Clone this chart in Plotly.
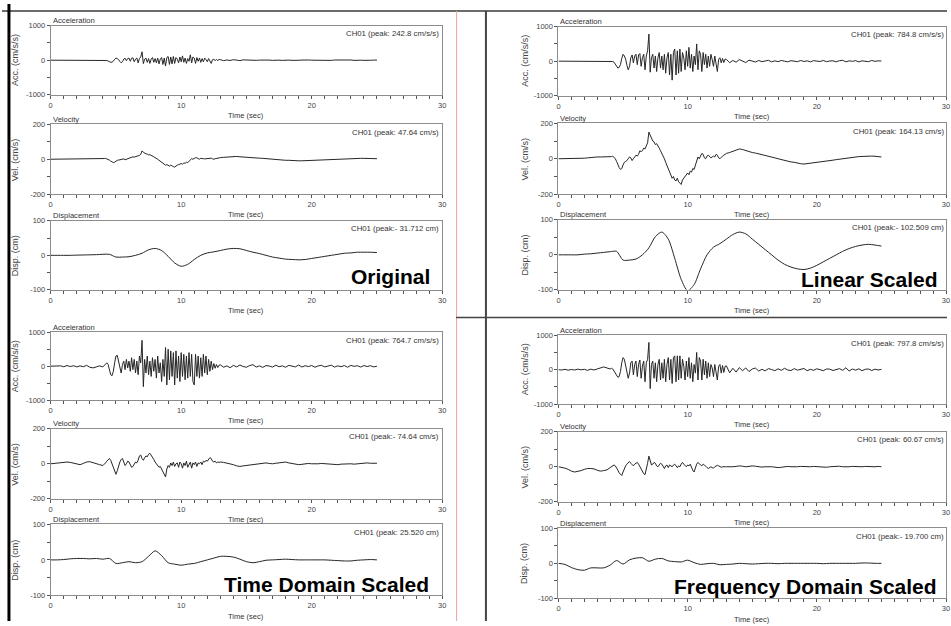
import numpy as np
import plotly.graph_objects as go

W, H = 951, 626
FONT = "Liberation Sans, Arial, sans-serif"

# ---------------- time grids ----------------
T_PRE = np.round(np.arange(0, 4.0, 0.25), 2)        # 16 pts
T_STRONG = np.round(np.arange(4.0, 12.95, 0.1), 2)  # 90 pts
T_POST = np.round(np.arange(13.0, 25.01, 0.25), 2)  # 49 pts
T_AV = np.concatenate([T_PRE, T_STRONG, T_POST])
T_D = np.round(np.arange(0, 25.01, 0.5), 2)         # 51 pts

# ---------------- acceleration (cm/s/s) ----------------
ACC_ORIG = [
    0, 0, 0, 0, 0, 0, 0, 2, -2, 0, 2, -2, 0, 3, -3, 0,
    0, 3, -3, -9, -25, -46, -62, -56, -31, 25,
    62, 46, 19, -37, -77, -46, 31, 56, -15, 46,
    62, -31, 56, 68, -46, 31, 62, -77, 46, 93,
    243, -99, 31, 62, -62, 46, -93, 31, 77, -62,
    46, -77, 62, -108, 31, 77, -124, 62, -170, 77,
    108, -124, 93, -108, 108, -93, 77, 31, -77, 93,
    -46, 124, -62, 62, -93, 46, -31, 155, -77, 93,
    62, -93, 77, -31, 62, -62, 46, -46, 62, 15,
    -46, 46, -31, -93, 15, 31, -15, 25, -12, 19,
    15, -14, 6, -9, 14, -3, -12, 9, 3, -8, 6, -5, 2, 8, -6, 3,
    -5, 6, 0, -6, 5, 2, -5, 6, -3, 3, -6, 5, 0, -3, 6, -5,
    2, 3, -6, 5, 8, -6, 3, -2, 5, -6, 3, 0, -5, 6, -2, 3,
    2,
]
ACC_LIN = [
    0, 0, 0, 0, 0, 0, 0, 5, -5, 0, 5, -5, 0, 5, -5, 0,
    0, 10, -10, -30, -80, -150, -200, -180, -100, 80,
    200, 150, 60, -120, -250, -150, 100, 180, -50, 150,
    200, -100, 180, 220, -150, 100, 200, -250, 150, 300,
    785, -320, 100, 200, -200, 150, -300, 100, 250, -200,
    150, -250, 200, -350, 100, 250, -400, 200, -550, 250,
    350, -400, 300, -350, 350, -300, 250, 100, -250, 300,
    -150, 400, -200, 200, -300, 150, -100, 500, -250, 300,
    200, -300, 250, -100, 200, -200, 150, -150, 200, 50,
    -150, 150, -100, -300, 50, 100, -50, 80, -40, 60,
    50, -45, 20, -30, 45, -10, -40, 30, 10, -25, 20, -15, 5, 25, -20, 10,
    -15, 20, 0, -20, 15, 5, -15, 20, -10, 10, -20, 15, 0, -10, 20, -15,
    5, 10, -20, 15, 25, -20, 10, -5, 15, -20, 10, 0, -15, 20, -5, 10,
    5,
]
ACC_TIME = [
    0, 5, -10, 10, -15, 20, -10, 15, -20, 10, -15, 25, -30, -50, -20, 10,
    -20, 20, 60, 100, 50, -100, -250, -280, -150, 100,
    300, 320, 150, -100, -200, 50, 150, -100, 200, -50,
    150, -150, 250, -100, 200, -200, 150, -250, 300, 100,
    760, -600, 200, -200, 300, -250, 150, -300, 250, -150,
    200, -350, 300, -200, 100, -450, 200, -300, 550, -550,
    500, -400, 450, -300, 400, -550, 450, -350, 300, -450,
    400, -300, 350, -400, 300, -350, 400, -300, 350, -450,
    -550, 350, -300, 300, -350, 250, -300, 350, -200, 300,
    -250, 200, -150, 150, -100, 80, -60, 50, -40, 30,
    40, -30, 10, -45, 25, -20, 35, -10, -30, 20, 45, -25, 10, -35, 20, 5,
    -25, 30, -15, 10, -30, 25, 0, -20, 35, -25, 15, -10, 20, -30, 10, 25,
    -20, 5, 30, -25, 10, -15, 20, -30, 25, -5, 15, -25, 20, -10, 15, -20,
    0,
]
ACC_FREQ = [
    0, -10, 10, -15, 5, -10, 15, -5, 10, -20, 15, -10, 20, 40, 80, 50,
    20, 40, 20, -40, -100, -180, -220, -200, -50, 200,
    350, 300, 100, -150, -250, -100, 200, 250, -150, 150,
    250, -200, 150, 280, -250, 100, 250, -350, 200, 300,
    790, -550, 150, 250, -250, 200, -350, 150, 300, -300,
    200, -250, 300, -350, 150, 350, -300, 300, -400, 350,
    400, -350, 400, -300, 400, -250, 300, 100, -300, 250,
    -200, 350, -250, 200, -350, 150, -100, 500, -300, 350,
    250, -300, 300, -150, 250, -250, 200, -200, 150, 50,
    -200, 150, -150, -300, 100, 150, -100, 120, -80, 100,
    110, -90, 40, -70, 60, -30, 50, -55, 20, 45, -40, 10, -35, 30, 5, -30,
    25, -20, 40, -10, -25, 30, -15, 5, 35, -30, 10, -20, 25, 0, -30, 20,
    15, -25, 10, 30, -20, 55, -40, 20, -15, 25, -30, 10, 20, -25, 15, -10,
    10,
]

# ---------------- velocity (cm/s) ----------------
VEL_ORIG = [
    0, 0, 0, 0, 0, 0, 0, 0, 1, 2, 2, 3, 3, 3, 3, 4,
    4, 4, 5, 3, 0, -5, -11, -15, -19, -17,
    -11, -6, -5, -3, 0, 3, 2, -3, 0, 3,
    6, 5, 8, 14, 12, 14, 19, 17, 22, 28,
    47.6, 40, 34, 31, 29, 25, 26, 23, 19, 14,
    9, 6, 0, -6, -12, -19, -22, -28, -34, -31,
    -37, -39, -34, -40, -42, -45, -37, -34, -31, -29,
    -25, -28, -22, -23, -17, -19, -12, -3, 3, 0,
    6, 9, 8, 2, 0, 5, 6, 3, 2, 3,
    5, 3, 8, 6, 2, 0, 3, 5, 6, 8,
    9, 11, 13, 15, 17, 16, 14, 12, 11, 10, 9, 8, 6, 5, 3, 2,
    0, -2, -3, -5, -6, -6, -8, -9, -9, -9, -8, -7, -6, -6, -5, -4,
    -3, -2, -2, -1, 0, 1, 2, 2, 3, 4, 4, 5, 5, 5, 4, 4,
    3,
]
VEL_LIN = [
    0, 0, 0, 0, 0, 0, 0, 0, 3, 5, 8, 10, 10, 10, 10, 12,
    12, 12, 15, 10, 0, -15, -35, -50, -60, -55,
    -35, -20, -15, -10, 0, 10, 5, -10, 0, 10,
    20, 15, 25, 45, 40, 45, 60, 55, 70, 90,
    150, 130, 110, 100, 95, 80, 85, 75, 60, 45,
    30, 20, 0, -20, -40, -60, -70, -90, -110, -100,
    -120, -125, -110, -130, -135, -145, -120, -110, -100, -95,
    -80, -90, -70, -75, -55, -60, -40, -10, 10, 0,
    20, 30, 25, 5, 0, 15, 20, 10, 5, 10,
    15, 10, 25, 20, 5, 0, 10, 15, 20, 25,
    30, 35, 42, 48, 55, 52, 45, 40, 35, 32, 28, 25, 20, 15, 10, 5,
    0, -5, -10, -15, -18, -20, -25, -28, -30, -28, -25, -22, -20, -18, -15, -12,
    -10, -8, -5, -2, 0, 2, 5, 8, 10, 12, 13, 15, 15, 15, 14, 12,
    10,
]
VEL_TIME = [
    0, 2, 5, 8, 10, 10, 8, 5, 0, -5, 2, 10, 12, 5, 0, -5,
    -10, -5, 5, 15, 25, 30, 20, 0, -25, -50,
    -60, -40, -10, 10, 25, 30, 10, -10, 0, 15,
    10, -5, -20, -15, 0, 10, 5, 20, 45, 50,
    30, 20, 35, 45, 40, 55, 60, 50, 35, 25,
    10, 0, -10, -20, -15, -30, -40, -55, -75, -30,
    -10, -20, 5, -10, 10, -15, 0, 5, -20, 10,
    0, -25, 5, -10, 15, -20, 0, 10, -25, 5,
    -5, 10, -15, 5, 0, 10, -5, 15, 10, 20,
    15, 25, 35, 30, 15, 10, 15, 5, 10, 8,
    10, 8, 5, 0, -5, -12, -15, -12, -10, -8, -5, -3, 0, 3, 5, 2,
    0, 3, 5, 8, 10, 5, 2, -2, -5, -3, 0, 2, 0, -2, 0, 2,
    0, -2, -5, -3, -5, -2, 0, 2, 0, -2, 0, 2, 3, 5, 3, 5,
    3,
]
VEL_FREQ = [
    0, -3, -8, -15, -25, -30, -28, -22, -15, -10, -10, -12, -20, -25, -22, -18,
    -5, 0, 5, 10, 5, -5, -20, -35, -45, -50,
    -30, -10, 5, 15, 25, 30, 20, 10, 5, 15,
    20, 25, 15, 0, -15, -30, -40, -45, -20, 20,
    61, 35, 10, 15, 25, 20, 5, 0, 10, 20,
    15, 0, -10, 5, 10, -5, 10, 5, 0, 10,
    15, 5, -5, 5, 0, 15, 25, 15, 5, 0,
    10, 5, 15, -10, -20, -30, 0, 15, 25, 15,
    10, 5, 15, 10, 0, -5, -10, -5, 0, -5,
    -8, 0, 5, 8, 5, 0, -3, 0, 2, 0,
    0, -2, 0, 2, 5, 3, 0, 2, 5, 3, 0, -2, 0, 2, 0, -2,
    -5, -3, 0, 2, 0, -2, 0, 2, 0, -2, 0, 2, 0, -2, -5, -3,
    0, 2, 5, 3, 0, -2, 0, 2, 0, -2, 0, 2, 0, -2, 0, 2,
    0,
]

# ---------------- displacement (cm) ----------------
DISP_ORIG = [
    0, 0, 0, 0, 0.6, 1, 1.5, 2, 3, 3,
    -5, -5, -4, 0, 6, 16, 20, 14, -3, -22,
    -31.7, -26, -12, 0, 7, 10, 14, 18, 20, 19,
    14, 9, 5, 0, -5, -8, -11, -12, -13, -12,
    -9, -6, -3, 0, 3, 6, 7, 9, 9, 9,
    8,
]
DISP_LIN = [
    0, 0, 0, 0, 2, 3, 5, 7, 9, 10,
    -15, -15, -12, 0, 20, 52, 65, 45, -10, -70,
    -102.5, -85, -40, 0, 22, 32, 45, 58, 65, 60,
    45, 30, 15, 0, -15, -27, -35, -40, -42, -38,
    -30, -20, -10, 0, 10, 18, 24, 28, 30, 28,
    25,
]
DISP_TIME = [
    0, 0, 1, 3, 4, 4, 3, 4, 2, 4,
    -10, -8, -5, -8, -5, 10, 25.5, 12, -8, -12,
    -15, -12, -10, -5, 0, 5, 10, 10, 8, 2,
    -5, -8, -5, -1, 0, 1, 2, 1, 0, 0,
    0, 0, 0, -1, -2, -3, -3, -1, 0, 1,
    0,
]
DISP_FREQ = [
    0, -3, -12, -18, -19.7, -13, -13, -13, -5, 8,
    -2, 10, 15, 16, 6, 12, 14, 7, 5, 4,
    9, 2, -3, -1, 0, -4, -3, -2, 0, -1,
    -2, -1, 0, 0, -1, 0, 0, 0, 0, 0,
    0, -1, 0, 0, 0, 0, 0, 1, 1, 0,
    0,
]

# ---------------- labels ----------------
PANEL_NAMES = ["Original", "Linear Scaled", "Time Domain Scaled", "Frequency Domain Scaled"]
PEAKS = [
    ["CH01 (peak: 242.8 cm/s/s)", "CH01 (peak: 47.64 cm/s)", "CH01 (peak:- 31.712 cm)"],
    ["CH01 (peak: 784.8 cm/s/s)", "CH01 (peak: 164.13 cm/s)", "CH01 (peak:- 102.509 cm)"],
    ["CH01 (peak: 764.7 cm/s/s)", "CH01 (peak:- 74.64 cm/s)", "CH01 (peak: 25.520 cm)"],
    ["CH01 (peak: 797.8 cm/s/s)", "CH01 (peak: 60.67 cm/s)", "CH01 (peak:- 19.700 cm)"],
]
ROW_TITLES = ["Acceleration", "Velocity", "Displacement"]
Y_TITLES = ["Acc. (cm/s/s)", "Vel. (cm/s)", "Disp. (cm)"]
Y_LIMITS = [1000, 200, 100]
X_TICKS = [0, 10, 20, 30]

SERIES = [
    [ACC_ORIG, VEL_ORIG, DISP_ORIG],
    [ACC_LIN, VEL_LIN, DISP_LIN],
    [ACC_TIME, VEL_TIME, DISP_TIME],
    [ACC_FREQ, VEL_FREQ, DISP_FREQ],
]

for p, ser in enumerate(SERIES):
    for r, s in enumerate(ser):
        need = len(T_D) if r == 2 else len(T_AV)
        if len(s) != need:
            raise ValueError(f"panel {p} row {r}: {len(s)} values, need {need}")

# ---------------- layout geometry (pixels) ----------------
GEOM = [
    dict(x0=49, x1=443, rows=[(22, 92), (122, 193), (220, 290)], ytx=13, peak_r=442,
         lab_r=433, lab_y=276),
    dict(x0=560, x1=950, rows=[(23, 93), (121, 193), (219, 290)], ytx=526, peak_r=950,
         lab_r=944, lab_y=280),
    dict(x0=49, x1=443, rows=[(333, 402), (431, 502), (528, 600)], ytx=13, peak_r=442,
         lab_r=432, lab_y=589),
    dict(x0=560, x1=950, rows=[(336, 406), (434, 505), (532, 603)], ytx=526, peak_r=950,
         lab_r=943, lab_y=591),
]


def px(x):
    return x / W


def py(y):
    return 1 - y / H


fig = go.Figure()
layout = {}
annotations = []
shapes = []
k = 0
for p in range(4):
    g = GEOM[p]
    for r in range(3):
        k += 1
        top, bot = g["rows"][r]
        t = T_D if r == 2 else T_AV
        R = Y_LIMITS[r]
        fig.add_trace(go.Scatter(
            x=t, y=SERIES[p][r], mode="lines",
            line=dict(color="#262626", width=1, shape="spline" if r == 2 else "linear",
                      smoothing=0.8),
            xaxis=f"x{k}", yaxis=f"y{k}", showlegend=False, hoverinfo="skip"))
        tickfont = dict(family=FONT, size=7.5, color="#444")
        layout[f"xaxis{k}"] = dict(
            domain=[px(g["x0"]), px(g["x1"])], range=[0, 30], anchor=f"y{k}",
            tickmode="array", tickvals=X_TICKS, ticktext=[str(v) for v in X_TICKS],
            ticks="outside", ticklen=3, tickcolor="#555", tickwidth=1,
            showline=True, linecolor="#8c8c8c", linewidth=1, mirror=True,
            showgrid=False, zeroline=False, tickfont=tickfont,
            minor=dict(dtick=1, ticks="outside", ticklen=3, tickcolor="#555", showgrid=False),
            fixedrange=True)
        layout[f"yaxis{k}"] = dict(
            domain=[py(bot), py(top)], range=[-R, R], anchor=f"x{k}",
            tickmode="array", tickvals=[-R, 0, R], ticktext=[f"-{R}", "0", f"{R}"],
            ticks="outside", ticklen=3, tickcolor="#555", tickwidth=1,
            showline=True, linecolor="#8c8c8c", linewidth=1, mirror=True,
            showgrid=False, zeroline=False, tickfont=tickfont,
            minor=dict(dtick=R / 2, ticks="outside", ticklen=3, tickcolor="#555", showgrid=False),
            fixedrange=True)
        annotations.append(dict(x=px(g["x0"]), y=py(top - 5), xref="paper", yref="paper",
                                text=ROW_TITLES[r], showarrow=False, xanchor="left",
                                yanchor="middle", font=dict(family=FONT, size=7.6, color="#333")))
        annotations.append(dict(x=px((g["x0"] + g["x1"]) / 2), y=py(bot + 21), xref="paper",
                                yref="paper", text="Time (sec)", showarrow=False,
                                xanchor="center", yanchor="middle",
                                font=dict(family=FONT, size=7.5, color="#333")))
        annotations.append(dict(x=px(g["ytx"]), y=py((top + bot) / 2), xref="paper",
                                yref="paper", text=Y_TITLES[r], showarrow=False,
                                textangle=-90, xanchor="center", yanchor="middle",
                                font=dict(family=FONT, size=9, color="#444")))
        annotations.append(dict(x=px(g["peak_r"]), y=py(top + 8), xref="paper", yref="paper",
                                text=PEAKS[p][r], showarrow=False, xanchor="right",
                                yanchor="middle", font=dict(family=FONT, size=7.8, color="#333")))
    annotations.append(dict(x=px(g["lab_r"]), y=py(g["lab_y"]), xref="paper", yref="paper",
                            text=f"<b>{PANEL_NAMES[p]}</b>", showarrow=False, xanchor="right",
                            yanchor="middle", font=dict(family=FONT, size=21, color="#000")))


def line(x0, y0, x1, y1, color, width):
    shapes.append(dict(type="line", xref="paper", yref="paper", x0=px(x0), y0=py(y0),
                       x1=px(x1), y1=py(y1), line=dict(color=color, width=width)))


line(0, 7, 951, 7, "#3a3a3a", 1.5)
line(7, 0, 7, 626, "#000000", 3)
line(457.5, 7, 457.5, 626, "#f0a0a0", 1)
line(487, 7, 487, 626, "#444444", 2)
line(457, 318, 951, 318, "#444444", 1.5)

layout.update(dict(
    width=W, height=H, autosize=False,
    margin=dict(l=0, r=0, t=0, b=0),
    paper_bgcolor="white", plot_bgcolor="white",
    annotations=annotations, shapes=shapes,
    font=dict(family=FONT),
))
fig.update_layout(**layout)
fig.write_html(
    "out.html",
    config={"displayModeBar": False, "staticPlot": True},
    post_script=("document.documentElement.style.overflow='hidden';"
                 "document.body.style.margin='0px';document.body.style.overflow='hidden';"),
)
